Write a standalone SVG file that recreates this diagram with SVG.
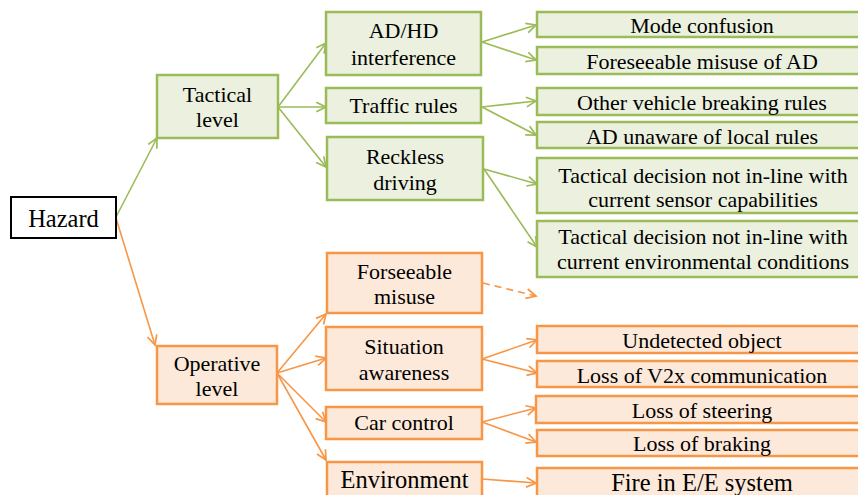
<svg xmlns="http://www.w3.org/2000/svg" width="858" height="495" viewBox="0 0 858 495">
  <style>
    text { font-family: "Liberation Serif", "Times New Roman", serif; font-size: 22px; fill: #000; text-anchor: middle; }
    .big { font-size: 24.5px; }
    .g rect { fill: #EBF1DE; stroke: #9BBB59; stroke-width: 2.5; }
    .o rect { fill: #FDE9D9; stroke: #F79646; stroke-width: 2.5; }
    .k rect { fill: #fff; stroke: #000; stroke-width: 2; }
    .lg { stroke: #9BBB59; stroke-width: 1.6; fill: none; marker-end: url(#ag); }
    .lo { stroke: #F79646; stroke-width: 1.6; fill: none; marker-end: url(#ao); }
    .dash { stroke-dasharray: 7 5; }
  </style>
  <defs>
    <marker id="ag" markerUnits="userSpaceOnUse" markerWidth="14" markerHeight="14" viewBox="-11 -6 13 12" refX="0" refY="0" orient="auto">
      <path d="M-9,-4.5 L0,0 L-9,4.5" fill="none" stroke="#9BBB59" stroke-width="1.6"/>
    </marker>
    <marker id="ao" markerUnits="userSpaceOnUse" markerWidth="14" markerHeight="14" viewBox="-11 -6 13 12" refX="0" refY="0" orient="auto">
      <path d="M-9,-4.5 L0,0 L-9,4.5" fill="none" stroke="#F79646" stroke-width="1.6"/>
    </marker>
  </defs>

  <!-- connectors -->
  <g id="connectors">
    <path class="lg" d="M116,217 L157,138"/>
    <path class="lo" d="M116,218 L155,345"/>

    <path class="lg" d="M278,107 L326,43"/>
    <path class="lg" d="M278,107 L326,107"/>
    <path class="lg" d="M278,107 L326,167"/>

    <path class="lo" d="M277,373 L326,314"/>
    <path class="lo" d="M277,373 L326,358"/>
    <path class="lo" d="M277,373 L326,422"/>
    <path class="lo" d="M277,373 L326,460"/>

    <path class="lg" d="M482,42 L536,25"/>
    <path class="lg" d="M482,42 L536,60"/>
    <path class="lg" d="M482,107 L536,101"/>
    <path class="lg" d="M482,107 L536,135"/>
    <path class="lg" d="M484,169 L537,184"/>
    <path class="lg" d="M484,169 L537,247"/>

    <path class="lo dash" d="M483,283 L536,296"/>

    <path class="lo" d="M482,359 L537,340"/>
    <path class="lo" d="M482,359 L537,373"/>
    <path class="lo" d="M482,422 L536,408"/>
    <path class="lo" d="M482,422 L536,442"/>
    <path class="lo" d="M482,479 L536,483"/>
  </g>

  <!-- root -->
  <g id="hazard" class="k">
    <rect x="11" y="197" width="105" height="41"/>
    <text x="63.5" y="227" class="big">Hazard</text>
  </g>

  <!-- level nodes -->
  <g id="tactical-level" class="g">
    <rect x="157" y="75" width="121" height="63"/>
    <text x="217.5" y="102">Tactical</text>
    <text x="217.5" y="127">level</text>
  </g>
  <g id="operative-level" class="o">
    <rect x="157" y="346" width="120" height="58"/>
    <text x="217" y="371">Operative</text>
    <text x="217" y="396">level</text>
  </g>

  <!-- tactical categories -->
  <g id="adhd-interference" class="g">
    <rect x="326" y="12" width="155" height="63"/>
    <text x="403.5" y="38">AD/HD</text>
    <text x="403.5" y="65">interference</text>
  </g>
  <g id="traffic-rules" class="g">
    <rect x="326" y="88" width="155" height="35"/>
    <text x="403.5" y="113">Traffic rules</text>
  </g>
  <g id="reckless-driving" class="g">
    <rect x="327" y="137" width="156" height="63"/>
    <text x="405" y="163.5">Reckless</text>
    <text x="405" y="189.5">driving</text>
  </g>

  <!-- operative categories -->
  <g id="forseeable-misuse" class="o">
    <rect x="327" y="253" width="155" height="60"/>
    <text x="404.5" y="278.5">Forseeable</text>
    <text x="404.5" y="304">misuse</text>
  </g>
  <g id="situation-awareness" class="o">
    <rect x="326" y="327" width="156" height="63"/>
    <text x="404" y="354">Situation</text>
    <text x="404" y="380">awareness</text>
  </g>
  <g id="car-control" class="o">
    <rect x="326" y="407" width="156" height="32"/>
    <text x="404" y="430">Car control</text>
  </g>
  <g id="environment" class="o">
    <rect x="327" y="462" width="155" height="45"/>
    <text x="404.5" y="487.5" class="big">Environment</text>
  </g>

  <!-- tactical leaves -->
  <g id="mode-confusion" class="g">
    <rect x="537" y="12" width="330" height="25"/>
    <text x="702" y="32.5">Mode confusion</text>
  </g>
  <g id="foreseeable-misuse-ad" class="g">
    <rect x="537" y="47" width="330" height="27"/>
    <text x="702" y="68.5">Foreseeable misuse of AD</text>
  </g>
  <g id="other-vehicle" class="g">
    <rect x="537" y="88" width="330" height="27"/>
    <text x="702" y="110">Other vehicle breaking rules</text>
  </g>
  <g id="ad-unaware" class="g">
    <rect x="537" y="122" width="330" height="26"/>
    <text x="702" y="144">AD unaware of local rules</text>
  </g>
  <g id="sensor-capabilities" class="g">
    <rect x="537" y="158" width="330" height="55"/>
    <text x="703" y="182.5">Tactical decision not in-line with</text>
    <text x="703" y="206.5">current sensor capabilities</text>
  </g>
  <g id="environmental-conditions" class="g">
    <rect x="537" y="221" width="330" height="56"/>
    <text x="703" y="243.5">Tactical decision not in-line with</text>
    <text x="703" y="268.5">current environmental conditions</text>
  </g>

  <!-- operative leaves -->
  <g id="undetected-object" class="o">
    <rect x="537" y="326" width="330" height="27"/>
    <text x="702" y="347.5">Undetected object</text>
  </g>
  <g id="loss-v2x" class="o">
    <rect x="537" y="361" width="330" height="26"/>
    <text x="702" y="382.5">Loss of V2x communication</text>
  </g>
  <g id="loss-steering" class="o">
    <rect x="536" y="396" width="331" height="27"/>
    <text x="702" y="417.5">Loss of steering</text>
  </g>
  <g id="loss-braking" class="o">
    <rect x="537" y="430" width="330" height="26"/>
    <text x="702" y="451">Loss of braking</text>
  </g>
  <g id="fire-ee" class="o">
    <rect x="537" y="468" width="330" height="40"/>
    <text x="702" y="491" class="big">Fire in E/E system</text>
  </g>
</svg>
